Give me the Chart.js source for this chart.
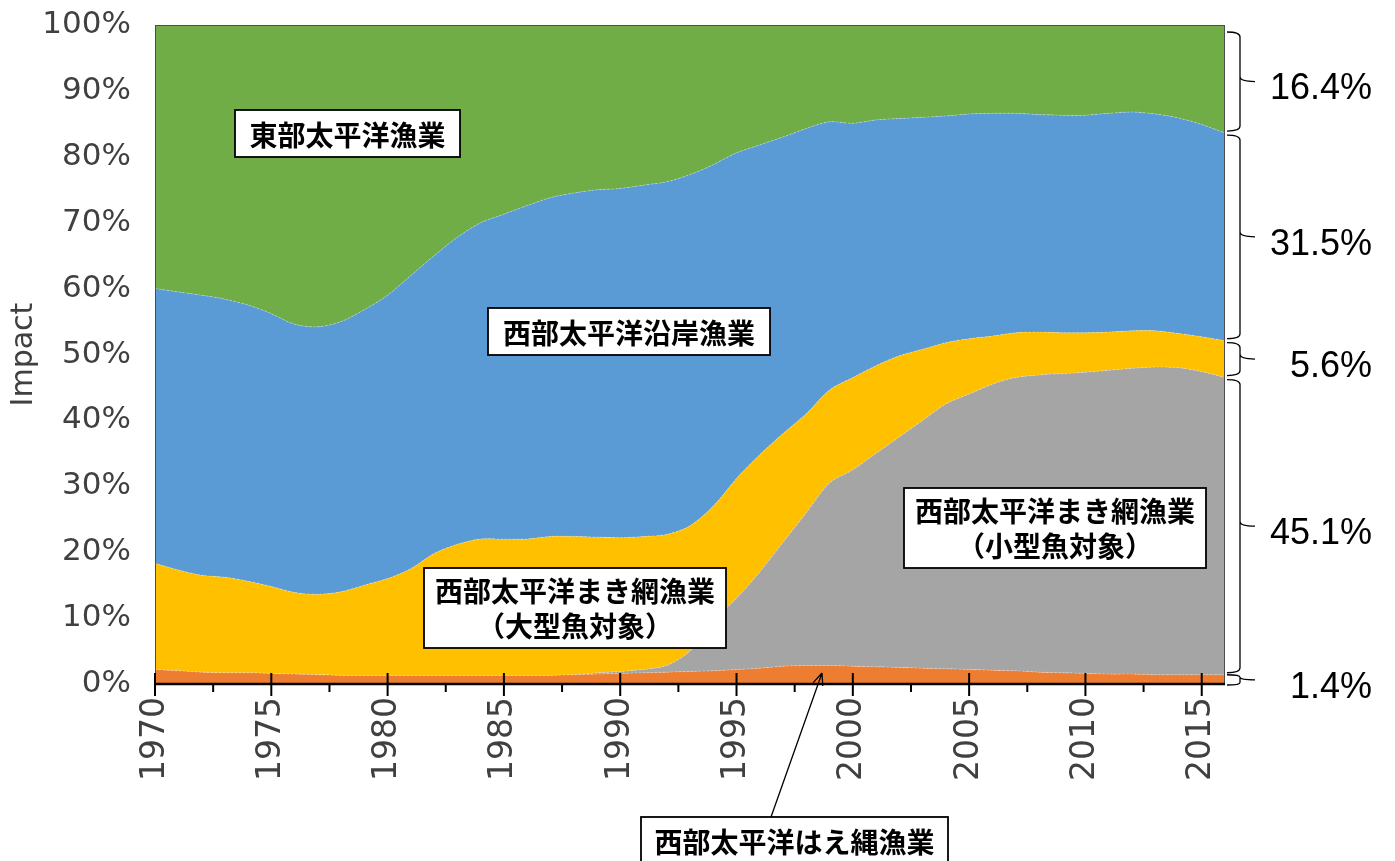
<!DOCTYPE html>
<html>
<head>
<meta charset="utf-8">
<script src="https://cdn.jsdelivr.net/npm/chart.js@4/dist/chart.umd.min.js"></script>
<style>
  html, body { margin: 0; padding: 0; background: #fff; }
  #chart { display: block; }
</style>
</head>
<body>
<canvas id="chart" width="1395" height="861"></canvas>
<script>
// 年ごとの構成比（%）
const years = [1970, 1971, 1972, 1973, 1974, 1975, 1976, 1977, 1978, 1979,
  1980, 1981, 1982, 1983, 1984, 1985, 1986, 1987, 1988, 1989,
  1990, 1991, 1992, 1993, 1994, 1995, 1996, 1997, 1998, 1999,
  2000, 2001, 2002, 2003, 2004, 2005, 2006, 2007, 2008, 2009,
  2010, 2011, 2012, 2013, 2014, 2015, 2016];

const longline = [2.2, 2.0, 1.8, 1.7, 1.7, 1.6, 1.5, 1.4, 1.3, 1.3,
  1.3, 1.3, 1.3, 1.3, 1.3, 1.3, 1.3, 1.3, 1.4, 1.5,
  1.6, 1.7, 1.8, 1.9, 2.0, 2.2, 2.4, 2.7, 2.8, 2.8,
  2.7, 2.6, 2.5, 2.4, 2.3, 2.2, 2.1, 2.0, 1.8, 1.7,
  1.6, 1.5, 1.5, 1.4, 1.4, 1.4, 1.4];

const purseSmall = [0, 0, 0, 0, 0, 0, 0, 0, 0, 0,
  0, 0, 0, 0, 0, 0, 0, 0, 0, 0.2,
  0.3, 0.5, 1.0, 3.1, 7.5, 10.8, 14.6, 18.8, 23.2, 27.7,
  29.8, 32.4, 35.0, 37.6, 40.2, 41.8, 43.4, 44.5, 45.1, 45.4,
  45.7, 46.1, 46.4, 46.7, 46.6, 46.0, 45.1];

const purseLarge = [16.1, 15.3, 14.7, 14.5, 13.9, 13.2, 12.4, 12.2, 12.7, 13.7,
  14.7, 16.2, 18.5, 19.9, 20.7, 20.7, 20.7, 21.1, 21.0, 20.6,
  20.3, 20.2, 19.9, 19.0, 17.5, 18.2, 17.8, 16.5, 15.0, 14.1,
  14.0, 13.3, 12.3, 10.8, 9.3, 8.4, 7.3, 6.8, 6.5, 6.2,
  6.0, 5.8, 5.7, 5.5, 5.2, 5.3, 5.6];

const coastal = [41.7, 42.2, 42.5, 42.2, 41.9, 41.4, 40.7, 40.6, 41.0, 41.8,
  43.0, 44.5, 45.2, 46.6, 48.0, 49.3, 50.6, 51.4, 52.1, 52.7,
  53.0, 53.3, 53.5, 53.3, 51.8, 49.4, 47.0, 45.0, 43.3, 40.7,
  38.6, 37.3, 36.0, 35.2, 34.4, 34.1, 33.8, 33.3, 33.0, 33.0,
  33.0, 33.2, 33.2, 32.9, 32.7, 32.2, 31.5];

const eastern = [40.0, 40.5, 41.0, 41.6, 42.5, 43.8, 45.4, 45.8, 45.0, 43.2,
  41.0, 38.0, 35.0, 32.2, 30.0, 28.7, 27.4, 26.2, 25.5, 25.0,
  24.8, 24.3, 23.8, 22.7, 21.2, 19.4, 18.2, 17.0, 15.7, 14.7,
  14.9, 14.4, 14.2, 14.0, 13.8, 13.5, 13.4, 13.4, 13.6, 13.7,
  13.7, 13.4, 13.2, 13.5, 14.1, 15.1, 16.4];

const yTicks = [0, 10, 20, 30, 40, 50, 60, 70, 80, 90, 100];

// 右側の括弧ラベル（2016年の構成比）
const shareLabels = ['1.4%', '45.1%', '5.6%', '31.5%', '16.4%'];

const seriesList = [
  { name: '西部太平洋はえ縄漁業', values: longline, color: '#ED7D31' },
  { name: '西部太平洋まき網漁業（小型魚対象）', values: purseSmall, color: '#A5A5A5' },
  { name: '西部太平洋まき網漁業（大型魚対象）', values: purseLarge, color: '#FFC000' },
  { name: '西部太平洋沿岸漁業', values: coastal, color: '#5B9BD5' },
  { name: '東部太平洋漁業', values: eastern, color: '#70AD47' }
];

const labelBoxes = [
  { lines: ['東部太平洋漁業'], left: 235, top: 110, width: 225, height: 47 },
  { lines: ['西部太平洋沿岸漁業'], left: 488, top: 308, width: 282, height: 47 },
  { lines: ['西部太平洋まき網漁業', '（大型魚対象）'], left: 424, top: 568, width: 302, height: 80 },
  { lines: ['西部太平洋まき網漁業', '（小型魚対象）'], left: 904, top: 488, width: 302, height: 80 },
  { lines: ['西部太平洋はえ縄漁業'], left: 641, top: 817, width: 307, height: 52 }
];

const overlayPlugin = {
  id: 'overlay',
  afterDatasetsDraw(chart) {
    const { ctx, chartArea, scales } = chart;
    const xs = scales.x;
    const ys = scales.y;
    ctx.save();

    // plot frame
    ctx.strokeStyle = '#4d4d4d';
    ctx.lineWidth = 1;
    ctx.strokeRect(chartArea.left + 0.5, chartArea.top + 0.5,
      chartArea.right - chartArea.left - 1, chartArea.bottom - chartArea.top);

    // x axis line and ticks
    ctx.strokeStyle = '#000';
    ctx.lineWidth = 2.5;
    ctx.beginPath();
    ctx.moveTo(chartArea.left, chartArea.bottom);
    ctx.lineTo(chartArea.right, chartArea.bottom);
    ctx.stroke();
    ctx.lineWidth = 2;
    xs.ticks.forEach((t) => {
      const px = xs.getPixelForValue(t.value);
      const major = t.value % 5 === 0;
      ctx.beginPath();
      ctx.moveTo(px, major ? chartArea.bottom - 11 : chartArea.bottom);
      ctx.lineTo(px, chartArea.bottom + (major ? 12 : 8));
      ctx.stroke();
    });

    // right side braces
    const last = years.length - 1;
    let cum = 0;
    ctx.lineWidth = 1.3;
    seriesList.forEach((s, i) => {
      const lo = cum;
      cum += s.values[last];
      const yBottom = ys.getPixelForValue(lo) - (i === 0 ? -1 : 2);
      const yTop = ys.getPixelForValue(cum) + (i === 0 ? 0 : 2) + (i === seriesList.length - 1 ? 5 : 0);
      const mid = (yTop + yBottom) / 2;
      const x0 = 1227, x1 = 1240, x2 = 1255;
      const r = Math.min(5, (yBottom - yTop) / 4);
      ctx.beginPath();
      ctx.moveTo(x0, yTop);
      ctx.quadraticCurveTo(x1, yTop, x1, yTop + r);
      ctx.lineTo(x1, mid - r);
      ctx.quadraticCurveTo(x1, mid, x2, mid);
      ctx.moveTo(x1, mid - r);
      ctx.quadraticCurveTo(x1, mid, x1, mid + r);
      ctx.lineTo(x1, yBottom - r);
      ctx.quadraticCurveTo(x1, yBottom, x0, yBottom);
      ctx.stroke();

      ctx.fillStyle = '#000';
      ctx.font = '36px "Liberation Sans", Arial, sans-serif';
      ctx.textAlign = 'right';
      ctx.textBaseline = 'middle';
      ctx.fillText(shareLabels[i], 1372, mid + 8);
    });

    // arrow to the longline band
    const ax0 = 771, ay0 = 817, ax1 = 822, ay1 = 673;
    ctx.lineWidth = 1.3;
    ctx.beginPath();
    ctx.moveTo(ax0, ay0);
    ctx.lineTo(ax1, ay1);
    const ang = Math.atan2(ay1 - ay0, ax1 - ax0);
    const head = 13;
    ctx.moveTo(ax1, ay1);
    ctx.lineTo(ax1 - head * Math.cos(ang - 0.4), ay1 - head * Math.sin(ang - 0.4));
    ctx.moveTo(ax1, ay1);
    ctx.lineTo(ax1 - head * Math.cos(ang + 0.4), ay1 - head * Math.sin(ang + 0.4));
    ctx.stroke();

    // label boxes
    labelBoxes.forEach((b) => {
      ctx.fillStyle = '#fff';
      ctx.fillRect(b.left, b.top, b.width, b.height);
      ctx.strokeStyle = '#000';
      ctx.lineWidth = 1.8;
      ctx.strokeRect(b.left, b.top, b.width, b.height);
      ctx.fillStyle = '#000';
      ctx.font = 'bold 28px "Noto Sans CJK JP", sans-serif';
      ctx.textAlign = 'center';
      ctx.textBaseline = 'middle';
      const cx = b.left + b.width / 2;
      if (b.lines.length === 1) {
        const cy = b.top + Math.min(b.height, 47) / 2 + 2;
        ctx.fillText(b.lines[0], cx, cy);
      } else {
        ctx.fillText(b.lines[0], cx, b.top + 23);
        ctx.fillText(b.lines[1], cx, b.top + 58);
      }
    });

    ctx.restore();
  }
};

new Chart(document.getElementById('chart'), {
  type: 'line',
  data: {
    datasets: seriesList.map((s, i) => ({
      label: s.name,
      data: years.map((yr, k) => ({ x: yr, y: s.values[k] })),
      backgroundColor: s.color,
      borderColor: 'rgba(255,255,255,0.35)',
      borderWidth: 1,
      borderDash: [2, 2],
      pointRadius: 0,
      tension: 0.3,
      fill: i === 0 ? 'origin' : '-1'
    }))
  },
  options: {
    responsive: false,
    animation: false,
    layout: { padding: { left: 0, top: 25, right: 170, bottom: 0 } },
    plugins: {
      legend: { display: false },
      tooltip: { enabled: false }
    },
    scales: {
      x: {
        type: 'linear',
        min: 1970,
        max: 2016,
        grid: { display: false, drawTicks: false },
        border: { display: false },
        ticks: {
          stepSize: 2.5,
          includeBounds: false,
          autoSkip: false,
          minRotation: 90,
          maxRotation: 90,
          padding: 13,
          color: '#404040',
          font: { family: 'DejaVu Sans', size: 33 },
          callback: (v) => (v % 5 === 0 ? String(v) : '')
        },
        afterFit: (scale) => {
          scale.height = 177;
          scale.paddingLeft = 0;
          scale.paddingRight = 0;
          scale.paddingTop = 0;
          scale.paddingBottom = 0;
        }
      },
      y: {
        stacked: true,
        min: 0,
        max: 100,
        grid: { display: false, drawTicks: false },
        border: { display: false },
        afterBuildTicks: (scale) => { scale.ticks = yTicks.map((v) => ({ value: v })); },
        ticks: {
          padding: 24,
          color: '#404040',
          font: { family: 'DejaVu Sans', size: 31 },
          callback: (v) => v + '%'
        },
        title: {
          display: true,
          text: 'Impact',
          color: '#404040',
          font: { family: 'DejaVu Sans', size: 30 },
          padding: { top: 6, bottom: 0 }
        },
        afterFit: (scale) => {
          scale.width = 155;
          scale.paddingTop = 0;
          scale.paddingBottom = 0;
        }
      }
    }
  },
  plugins: [overlayPlugin]
});
</script>
</body>
</html>
